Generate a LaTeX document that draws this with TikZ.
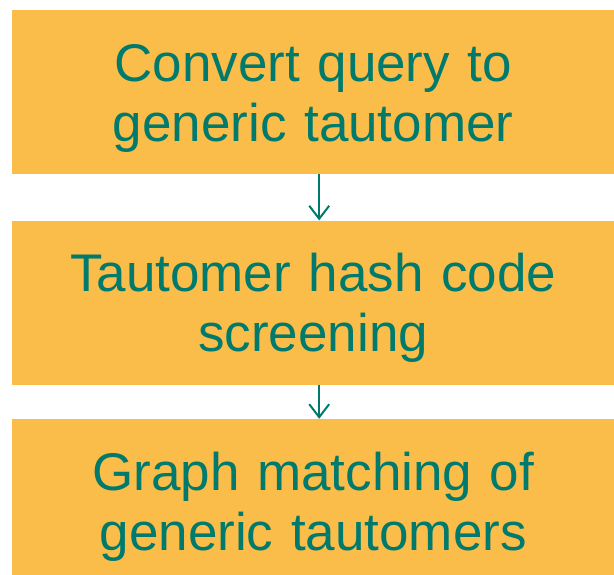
\documentclass[tikz,border=0pt]{standalone}
\usepackage{fontspec}
\setmainfont{Liberation Sans}
\usetikzlibrary{positioning,arrows.meta}

\definecolor{boxfill}{HTML}{FBBD4A}
\definecolor{boxtext}{HTML}{007A6C}

\tikzset{
  stepbox/.style={fill=boxfill, text=boxtext, inner sep=0pt,
    minimum width=602pt, minimum height=164pt, text width=590pt,
    align=center, font=\fontsize{53}{60}\selectfont,
    execute at begin node={\rule{0pt}{49pt}}},
  flow/.style={draw=boxtext, line width=2pt,
    -{Straight Barb[length=13pt,width=20pt,line width=2pt]}}
}

\begin{document}
\begin{tikzpicture}[x=1pt,y=1pt]
  \useasboundingbox (0,0) rectangle (614,-575);
  \clip (0,0) rectangle (614,-575);

  \node[stepbox, anchor=north west] (convert) at (12,-10)
    { Convert query to\\generic tautomer };
  \node[stepbox, below=46pt of convert] (screen)
    { Tautomer hash code\\screening };
  \node[stepbox, below=34pt of screen] (match)
    { Graph matching of\\generic tautomers };

  \draw[flow] ([xshift=6pt]convert.south) -- ([xshift=6pt]screen.north);
  \draw[flow] ([xshift=6pt]screen.south) -- ([xshift=6pt]match.north);
\end{tikzpicture}
\end{document}
